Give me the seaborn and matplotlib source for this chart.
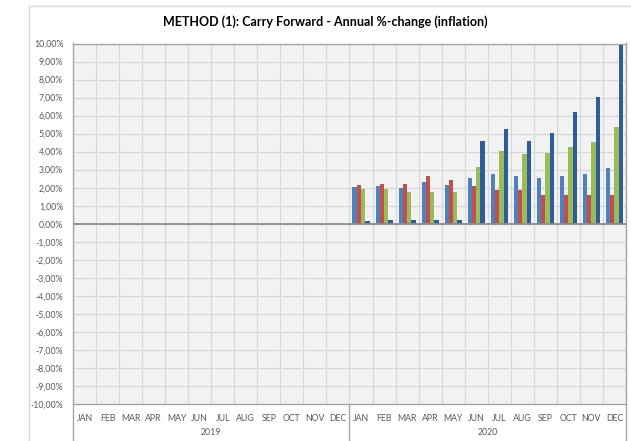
import numpy as np
import pandas as pd
import matplotlib
matplotlib.use("Agg")
import matplotlib.pyplot as plt
import seaborn as sns
from matplotlib.patches import Rectangle
from matplotlib.lines import Line2D
from matplotlib.ticker import FuncFormatter

# chart data (annual %-change, 2019 empty)
months = ["JAN", "FEB", "MAR", "APR", "MAY", "JUN", "JUL", "AUG", "SEP", "OCT", "NOV", "DEC"]
years = ["2019", "2020"]
series_names = ["Series 1", "Series 2", "Series 3", "Series 4"]
series_1_2020 = [2.05, 2.10, 2.00, 2.30, 2.17, 2.53, 2.74, 2.66, 2.52, 2.66, 2.74, 3.11]
series_2_2020 = [2.17, 2.20, 2.20, 2.65, 2.45, 2.12, 1.87, 1.87, 1.57, 1.57, 1.57, 1.57]
series_3_2020 = [1.95, 1.95, 1.75, 1.75, 1.75, 3.14, 4.04, 3.85, 3.93, 4.28, 4.52, 5.36]
series_4_2020 = [0.15, 0.20, 0.20, 0.20, 0.20, 4.58, 5.25, 4.61, 5.02, 6.19, 7.01, 9.93]
colors = ["#4F81BD", "#C0504D", "#9BBB59", "#2F5D97"]

# build long table
keys = [f"{y}-{m}" for y in years for m in months]
rows = []
for name, vals in zip(series_names, [series_1_2020, series_2_2020, series_3_2020, series_4_2020]):
    for m in months:
        rows.append({"key": f"2019-{m}", "series": name, "value": np.nan})
    for m, v in zip(months, vals):
        rows.append({"key": f"2020-{m}", "series": name, "value": v})
df = pd.DataFrame(rows)

sns.set_style("white")
plt.rcParams["font.family"] = ["Lato", "DejaVu Sans"]

fig = plt.figure(figsize=(6.31, 4.41), dpi=100)
ax = fig.add_axes([73 / 631, 1 - 404 / 441, (626 - 73) / 631, (404 - 43.5) / 441])
ax.set_facecolor("#F2F2F2")

sns.barplot(data=df, x="key", y="value", hue="series", order=keys, hue_order=series_names,
            palette=colors, width=0.74, gap=0, errorbar=None, legend=False, ax=ax,
            saturation=1, edgecolor="none", zorder=3)

ax.set_xlim(-0.5, 23.5)
ax.set_ylim(-10, 10)
ax.set_yticks(np.arange(-10, 11, 1))
ax.yaxis.set_major_formatter(FuncFormatter(lambda v, p: f"{v:.2f}%".replace(".", ",")))
ax.set_xticks(range(24))
ax.set_xticklabels(months * 2)
ax.set_xticks(np.arange(-0.5, 24, 0.5), minor=True)
ax.tick_params(axis="both", which="both", length=0, labelsize=6.3, labelcolor="#595959")
ax.tick_params(axis="x", pad=7)
ax.tick_params(axis="y", pad=7)
ax.set_xlabel("")
ax.set_ylabel("")

ax.grid(axis="y", which="major", color="#D9D9D9", lw=0.9, zorder=0)
ax.grid(axis="x", which="minor", color="#D9D9D9", lw=0.9, zorder=0)
ax.set_axisbelow(True)
ax.axhline(0, color="#8C8C8C", lw=1.3, zorder=4)
for s in ax.spines.values():
    s.set_visible(True)
    s.set_color("#A6A6A6")
    s.set_linewidth(1.0)

# year labels and separators below the axis
trans = ax.get_xaxis_transform()
for i, y in enumerate(years):
    ax.text(5.5 + 12 * i, -0.08, y, transform=trans, ha="center", va="center",
            fontsize=6.3, color="#595959")
for xb in [-0.5, 11.5, 23.5]:
    ax.add_line(Line2D([xb, xb], [0, -0.11], transform=trans, color="#A6A6A6",
                       lw=1.0, clip_on=False))

fig.text(325 / 631, 1 - 22 / 441, "METHOD (1): Carry Forward - Annual %-change (inflation)",
         ha="center", va="center", fontsize=9, fontweight="bold", color="#000000")

# outer chart frame
fig.add_artist(Rectangle((29 / 631, -0.1), 1.2, 1.1 - 6 / 441, transform=fig.transFigure,
                         fill=False, edgecolor="#D9D9D9", lw=1.0))

fig.savefig("out.png", dpi=100)
